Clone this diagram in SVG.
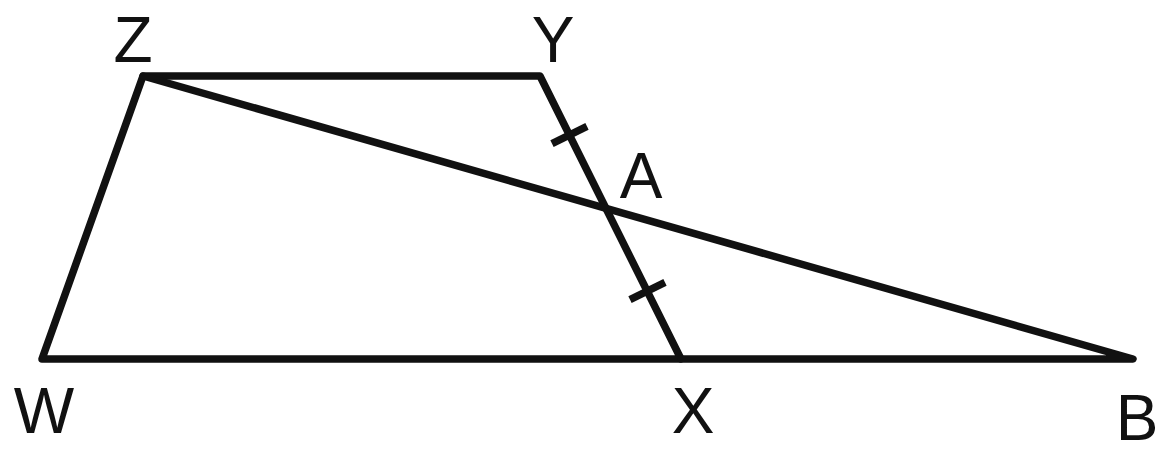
<svg xmlns="http://www.w3.org/2000/svg" width="1168" height="454" viewBox="0 0 1168 454">
<style>
.ln{fill:none;stroke:#111;stroke-width:7.5;stroke-linecap:round;stroke-linejoin:round}
.tk{fill:none;stroke:#111;stroke-width:7.5;stroke-linecap:butt}
.lb{font-family:"Liberation Sans",Arial,sans-serif;font-size:64px;fill:#111;text-anchor:middle}
</style>
<rect width="1168" height="454" fill="#fff"/>
<g id="connectors">
<polygon class="ln" points="143,76 540,76 681,359 42,359"/>
<polyline class="ln" points="143,76 1133,359 681,359"/>
<line class="tk" x1="552" y1="143.6" x2="587" y2="126.4"/>
<line class="tk" x1="630" y1="299.6" x2="665" y2="282.4"/>
</g>
<g id="Z"><text class="lb" x="133" y="62">Z</text></g>
<g id="Y"><text class="lb" x="553" y="62">Y</text></g>
<g id="A"><text class="lb" x="641" y="198">A</text></g>
<g id="W"><text class="lb" x="44" y="433">W</text></g>
<g id="X"><text class="lb" x="693" y="433">X</text></g>
<g id="B"><text class="lb" x="1137" y="440">B</text></g>
</svg>
